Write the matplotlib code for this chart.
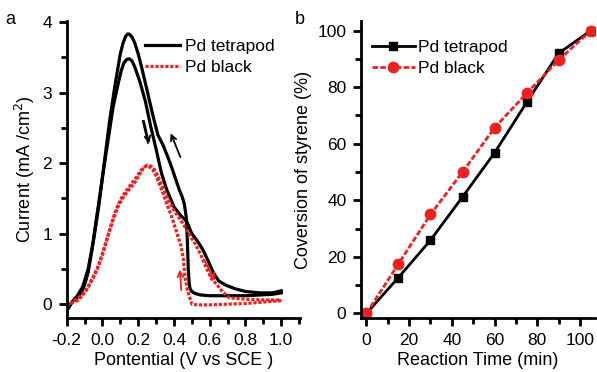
import matplotlib
matplotlib.use("Agg")
import matplotlib.pyplot as plt
from matplotlib.ticker import MultipleLocator

plt.rcParams['font.family'] = ['Liberation Sans', 'DejaVu Sans']

# ---------------- Panel a data (CV curves) ----------------
tetra_fwd_V = [-0.2, -0.17, -0.14, -0.12, -0.10, -0.08, -0.06, -0.04, -0.02, 0.0, 0.03, 0.06, 0.09, 0.105,
               0.12, 0.135, 0.15, 0.165, 0.18, 0.21, 0.24, 0.27, 0.30, 0.33, 0.36, 0.40, 0.44, 0.47, 0.50,
               0.53, 0.56, 0.59, 0.62, 0.65, 0.69, 0.74, 0.80, 0.88, 0.95, 1.0]
tetra_fwd_I = [-0.08, 0.03, 0.10, 0.16, 0.27, 0.45, 0.75, 1.10, 1.45, 1.80, 2.30, 2.80, 3.15, 3.31,
               3.42, 3.47, 3.48, 3.45, 3.37, 3.15, 2.88, 2.52, 2.20, 1.86, 1.62, 1.38, 1.25, 1.18, 1.00,
               0.90, 0.78, 0.62, 0.45, 0.33, 0.27, 0.22, 0.18, 0.16, 0.16, 0.19]
tetra_bwd_V = [1.0, 0.95, 0.88, 0.80, 0.70, 0.60, 0.55, 0.52, 0.50, 0.49, 0.485, 0.48, 0.475, 0.468,
               0.458, 0.445, 0.43, 0.41, 0.39, 0.37, 0.34, 0.31, 0.28, 0.25, 0.22, 0.20, 0.18, 0.165,
               0.15, 0.14, 0.13, 0.115, 0.10, 0.07, 0.04, 0.01, -0.02, -0.05, -0.08, -0.11, -0.14,
               -0.17, -0.2]
tetra_bwd_I = [0.16, 0.14, 0.13, 0.12, 0.12, 0.12, 0.13, 0.15, 0.18, 0.22, 0.30, 0.50, 0.90, 1.25,
               1.42, 1.53, 1.62, 1.77, 1.92, 2.06, 2.25, 2.40, 2.70, 3.03, 3.35, 3.55, 3.71, 3.79,
               3.83, 3.83, 3.80, 3.70, 3.55, 3.10, 2.60, 2.00, 1.40, 0.90, 0.50, 0.25, 0.12, 0.03,
               -0.10]

black_fwd_V = [-0.2, -0.17, -0.14, -0.12, -0.09, -0.06, -0.03, 0.0, 0.03, 0.06, 0.09, 0.12, 0.15, 0.18,
               0.21, 0.23, 0.25, 0.27, 0.29, 0.31, 0.34, 0.37, 0.40, 0.43, 0.46, 0.49, 0.52, 0.55,
               0.58, 0.61, 0.64, 0.67, 0.71, 0.80, 0.90, 1.0]
black_fwd_I = [-0.02, 0.02, 0.05, 0.10, 0.20, 0.35, 0.50, 0.72, 0.97, 1.20, 1.40, 1.53, 1.63, 1.72,
               1.85, 1.93, 1.97, 1.96, 1.91, 1.82, 1.64, 1.47, 1.33, 1.22, 1.10, 0.97, 0.85, 0.70,
               0.52, 0.36, 0.28, 0.18, 0.09, 0.07, 0.06, 0.06]
black_bwd_V = [1.0, 0.9, 0.8, 0.7, 0.6, 0.53, 0.50, 0.49, 0.475, 0.462, 0.452, 0.44, 0.42, 0.39,
               0.36, 0.33, 0.30, 0.28, 0.26, 0.245, 0.23, 0.21, 0.19, 0.16, 0.13, 0.10, 0.07, 0.04,
               0.01, -0.02, -0.05, -0.08, -0.11, -0.14, -0.17, -0.2]
black_bwd_I = [0.05, 0.03, 0.01, 0.0, -0.01, -0.01, 0.0, 0.08, 0.20, 0.38, 0.65, 0.82, 0.98, 1.22,
               1.42, 1.63, 1.82, 1.91, 1.95, 1.96, 1.94, 1.88, 1.80, 1.70, 1.60, 1.48, 1.30, 1.05,
               0.78, 0.55, 0.38, 0.24, 0.14, 0.08, 0.03, -0.04]

# ---------------- Panel b data ----------------
time_min = [0, 15, 30, 45, 60, 75, 90, 105]
conv_tetrapod = [0, 12.7, 25.9, 41.2, 56.8, 74.6, 92.0, 100]
conv_black = [0, 17.5, 35.0, 50.0, 65.7, 77.8, 89.6, 100]

labels = ['Pd tetrapod', 'Pd black']

RED = '#f02020'
BLACK = '#000000'

fig = plt.figure(figsize=(5.97, 3.72), dpi=100)
axa = fig.add_axes([0.1117, 0.1444, 0.3908, 0.8000])
axb = fig.add_axes([0.6047, 0.1444, 0.3920, 0.8000])

lw_curve = 2.3
dots = (0, (1.0, 0.55))

axa.plot(tetra_fwd_V, tetra_fwd_I, color=BLACK, lw=lw_curve, label=labels[0], solid_joinstyle='round')
axa.plot(tetra_bwd_V, tetra_bwd_I, color=BLACK, lw=lw_curve, solid_joinstyle='round')
axa.plot(black_fwd_V, black_fwd_I, color=RED, lw=lw_curve, ls=dots, label=labels[1])
axa.plot(black_bwd_V, black_bwd_I, color=RED, lw=lw_curve, ls=dots)

arr_k = dict(arrowstyle='->', color=BLACK, lw=1.3, mutation_scale=10)
arr_r = dict(arrowstyle='->', color=RED, lw=1.3, mutation_scale=10)
axa.annotate('', xy=(0.265, 2.24), xytext=(0.228, 2.64), arrowprops=arr_k)
axa.annotate('', xy=(0.258, 2.24), xytext=(0.221, 2.64), arrowprops=dict(arrowstyle='-', color=BLACK, lw=1.1))
axa.annotate('', xy=(0.376, 2.46), xytext=(0.442, 2.05), arrowprops=arr_k)
axa.annotate('', xy=(0.432, 0.53), xytext=(0.442, 0.16), arrowprops=arr_r)
axa.annotate('', xy=(0.637, 0.30), xytext=(0.561, 0.67), arrowprops=arr_r)

axa.set_xlim(-0.2, 1.105)
axa.set_ylim(-0.2, 4.02)
axa.xaxis.set_minor_locator(MultipleLocator(0.1))
axa.yaxis.set_major_locator(MultipleLocator(1))
axa.yaxis.set_minor_locator(MultipleLocator(0.5))
axa.set_xticks([-0.2, 0.0, 0.2, 0.4, 0.6, 0.8, 1.0])
axa.set_xticklabels(['-0.2', '0.0', '0.2', '0.4', '0.6', '0.8', '1.0'])
axa.set_xlabel('Pontential (V vs SCE )', fontsize=13, labelpad=3)
axa.set_ylabel('Current (mA /cm$^2$)', fontsize=13, labelpad=4)

axb.plot(time_min, conv_tetrapod, color=BLACK, lw=2.0, marker='s', ms=6, label=labels[0])
axb.plot(time_min, conv_black, color=RED, lw=2.0, ls=(0, (2.0, 0.8)), marker='o', ms=7.5,
         label=labels[1])
axb.set_xlim(-2.5, 107)
axb.set_ylim(-1.7, 103.5)
axb.xaxis.set_major_locator(MultipleLocator(20))
axb.xaxis.set_minor_locator(MultipleLocator(10))
axb.yaxis.set_major_locator(MultipleLocator(20))
axb.yaxis.set_minor_locator(MultipleLocator(10))
axb.set_xlabel('Reaction Time (min)', fontsize=13, labelpad=3)
axb.set_ylabel('Coversion of styrene (%)', fontsize=13, labelpad=4)

for ax in (axa, axb):
    for s in ('top', 'right'):
        ax.spines[s].set_visible(False)
    for s in ('left', 'bottom'):
        ax.spines[s].set_linewidth(2.0)
    ax.tick_params(which='major', direction='out', length=6, width=2.0, labelsize=12.5, pad=4.5)
    ax.tick_params(which='minor', direction='out', length=4, width=2.0)

axa.legend(loc='upper left', bbox_to_anchor=(0.335, 0.94), frameon=False, fontsize=12.5,
           handlelength=2.0, handletextpad=0.3, labelspacing=0.35, borderpad=0, borderaxespad=0)
axb.legend(loc='upper left', bbox_to_anchor=(0.045, 0.935), frameon=False, fontsize=12.5,
           handlelength=2.5, handletextpad=0.2, labelspacing=0.35, borderpad=0, borderaxespad=0)

fig.text(10 / 597, 1 - 20 / 372, 'a', fontsize=13, ha='center', va='center')
fig.text(300 / 597, 1 - 20 / 372, 'b', fontsize=13, ha='center', va='center')

fig.savefig('out.png', dpi=100)
